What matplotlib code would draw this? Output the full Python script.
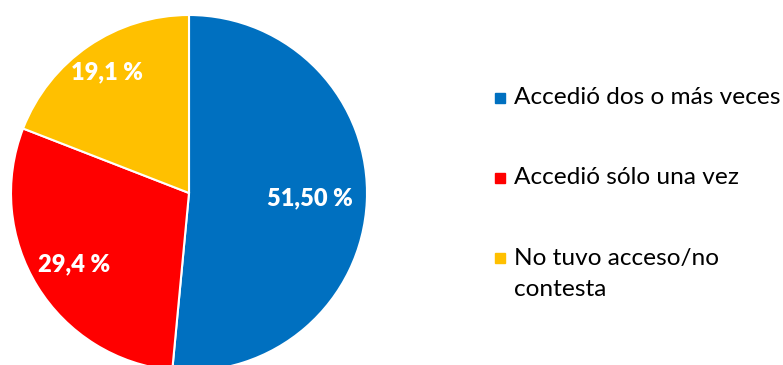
import numpy as np
import matplotlib
matplotlib.use("Agg")
import matplotlib.pyplot as plt
from matplotlib.patches import Rectangle

categories = ["Accedió dos o más veces", "Accedió sólo una vez", "No tuvo acceso/no\ncontesta"]
values = [51.50, 29.4, 19.1]
decimals = [2, 1, 1]
colors = ["#0070C0", "#FF0000", "#FFC000"]

FONT = "Lato"
W, H = 783, 365

fig = plt.figure(figsize=(W / 100, H / 100), dpi=100)
# pie: centre (189, 193) px, radius 178 px, runs off the bottom edge
cx, cy, r = 189, 193, 178
ax = fig.add_axes([(cx - r) / W, (H - cy - r) / H, 2 * r / W, 2 * r / H])
wedges, _ = ax.pie(values, colors=colors, startangle=90, counterclock=False,
                   wedgeprops=dict(edgecolor="white", linewidth=1.5))
ax.set_xlim(-1, 1); ax.set_ylim(-1, 1)
ax.set_aspect("equal")

label_r = [0.68, 0.76, 0.82]
for w, v, d, lr in zip(wedges, values, decimals, label_r):
    th = np.deg2rad((w.theta1 + w.theta2) / 2)
    txt = ("%.*f %%" % (d, v)).replace(".", ",")
    ax.text(lr * np.cos(th), lr * np.sin(th), txt, ha="center", va="center",
            color="white", fontsize=17, fontweight="heavy", family=FONT)

# legend drawn by hand to keep the wide row spacing
rows_y = [98, 178, 258]
for lab, c, y in zip(categories, colors, rows_y):
    fig.patches.append(Rectangle((495 / W, (H - y - 5) / H), 10 / W, 10 / H,
                                 transform=fig.transFigure, color=c))
    for k, line in enumerate(lab.split("\n")):
        fig.text(514 / W, (H - y - 32 * k) / H, line, ha="left", va="center",
                 fontsize=17.6, family=FONT, color="black")

fig.savefig("out.png", dpi=100)
